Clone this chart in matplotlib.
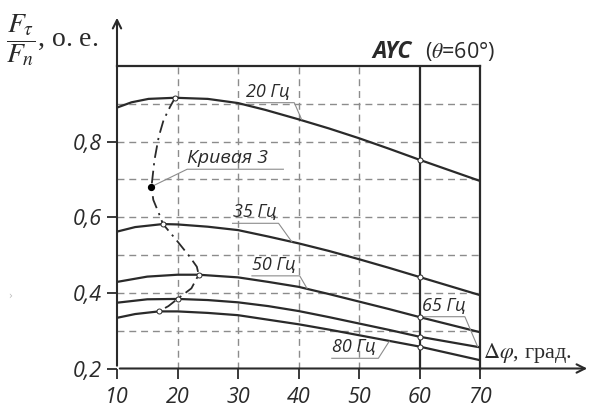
import matplotlib.pyplot as plt
import numpy as np

plt.rcParams['mathtext.fontset'] = 'stix'

# values
x20 = [10, 12.4, 15.2, 19.6, 25, 30, 34.5, 40, 45, 50, 55, 60, 65, 70]
y20 = [0.890, 0.904, 0.913, 0.916, 0.913, 0.902, 0.884, 0.859, 0.835, 0.809, 0.781, 0.752, 0.724, 0.696]
x35 = [10, 13, 17.6, 20, 25, 30, 35, 40, 45, 50, 55, 60, 65, 70]
y35 = [0.562, 0.574, 0.582, 0.581, 0.575, 0.566, 0.549, 0.531, 0.511, 0.489, 0.466, 0.442, 0.418, 0.394]
x50 = [10, 15, 20, 23.5, 30, 35, 40, 45, 50, 55, 60, 65, 70]
y50 = [0.429, 0.443, 0.448, 0.448, 0.441, 0.429, 0.416, 0.397, 0.377, 0.357, 0.336, 0.316, 0.296]
x65 = [10, 15, 20, 25, 30, 35, 40, 45, 50, 55, 60, 65, 70]
y65 = [0.374, 0.383, 0.384, 0.381, 0.375, 0.365, 0.352, 0.336, 0.319, 0.302, 0.284, 0.270, 0.256]
x80 = [10, 13, 16.9, 20, 25, 30, 35, 40, 45, 50, 55, 60, 65, 70]
y80 = [0.334, 0.344, 0.351, 0.351, 0.347, 0.341, 0.329, 0.317, 0.303, 0.288, 0.273, 0.258, 0.240, 0.222]

# "Кривая 3" - line through the maxima
xk3 = [19.6, 18.8, 17.7, 16.9, 16.2, 15.7, 16.0, 16.9, 17.6, 19.8, 22.0, 23.2, 23.5, 22.3, 20.0, 18.5, 16.9]
yk3 = [0.916, 0.893, 0.857, 0.813, 0.752, 0.681, 0.646, 0.611, 0.582, 0.540, 0.496, 0.469, 0.448, 0.412, 0.384, 0.365, 0.351]
xk3_open = [19.6, 17.6, 23.5, 20.0, 16.9]
yk3_open = [0.916, 0.582, 0.448, 0.384, 0.351]

x_ayc = 60
y_ayc = [0.752, 0.442, 0.336, 0.284, 0.258]

xticks = [10, 20, 30, 40, 50, 60, 70]
yticks = [0.2, 0.4, 0.6, 0.8]

W, H = 591, 408
fig = plt.figure(figsize=(W / 100, H / 100), dpi=100)
ax = fig.add_axes([117 / W, (H - 368.5) / H, 363 / W, 302.5 / H])

dark = '#2a2a2a'
gray = '#8c8c8c'
sans = 'Open Sans'

# dashed grid
for gx in [20, 30, 40, 50]:
    ax.plot([gx, gx], [0.2, 1.0], color=gray, lw=1.0, ls=(0, (5, 3.5)), zorder=1)
for gy in [0.3, 0.4, 0.5, 0.6, 0.7, 0.8, 0.9]:
    ax.plot([10, 70], [gy, gy], color=gray, lw=1.0, ls=(0, (5, 3.5)), zorder=1)

ax.plot([x_ayc, x_ayc], [0.2, 1.0], color=dark, lw=1.6, zorder=2)

for xs, ys in [(x20, y20), (x35, y35), (x50, y50), (x65, y65), (x80, y80)]:
    ax.plot(xs, ys, color=dark, lw=1.6, zorder=3, solid_joinstyle='round')

ax.plot(xk3, yk3, color=dark, lw=1.3, ls=(0, (7, 3, 1.2, 3)), zorder=3)
ax.plot(xk3_open, yk3_open, 'o', ms=3.6, mfc='white', mec=dark, mew=0.7, zorder=5)
ax.plot([x_ayc] * len(y_ayc), y_ayc, 'o', ms=3.6, mfc='white', mec=dark, mew=0.7, zorder=5)
ax.plot([15.7], [0.681], 'o', ms=4.2, color='black', zorder=5)

# labels with leader lines
labels = [
    ('20 Гц', 31.4, 0.903, 39.3, 40.5, 0.859),
    ('Кривая 3', 21.6, 0.727, 37.5, 15.7, 0.681),
    ('35 Гц', 29.1, 0.584, 36.7, 38.9, 0.535),
    ('50 Гц', 32.3, 0.445, 40.2, 41.4, 0.412),
    ('65 Гц', 60.4, 0.337, 67.5, 69.6, 0.258),
    ('80 Гц', 45.5, 0.227, 53.2, 55.0, 0.272),
]
for txt, x0, yl, x1, xe, ye in labels:
    if txt.startswith('Кривая'):
        ax.plot([x1, x0, xe], [yl, yl, ye], color=gray, lw=0.8, zorder=4, clip_on=False)
        fs = 14
    else:
        ax.plot([x0, x1, xe], [yl, yl, ye], color=gray, lw=0.8, zorder=4, clip_on=False)
        fs = 13
    ax.text(x0, yl + 0.005, txt, fontsize=fs, family=sans, style='italic',
            color=dark, ha='left', va='bottom')

ax.set_xlim(10, 70)
ax.set_ylim(0.2, 1.0)
ax.set_xticks(xticks)
ax.set_yticks(yticks)
ax.set_xticklabels([str(v) for v in xticks])
ax.set_yticklabels([('%.1f' % v).replace('.', ',') for v in yticks])
for lab in ax.get_xticklabels() + ax.get_yticklabels():
    lab.set_family(sans)
    lab.set_style('italic')
    lab.set_fontsize(15.5)
    lab.set_color(dark)
ax.tick_params(direction='out', length=7, width=1.3, color=dark)
ax.tick_params(axis='x', pad=6)
ax.tick_params(axis='y', pad=4)

for s in ['top', 'right']:
    ax.spines[s].set_linewidth(1.6)
    ax.spines[s].set_color(dark)
ax.spines['left'].set_visible(False)
ax.spines['bottom'].set_visible(False)

# axes with arrows
ax.annotate('', xy=(117, H - 15), xycoords='figure pixels', xytext=(117, H - 368.5),
            textcoords='figure pixels',
            arrowprops=dict(arrowstyle='->,head_length=0.6,head_width=0.3', lw=1.5, color=dark))
ax.annotate('', xy=(590, H - 368.5), xycoords='figure pixels', xytext=(117, H - 368.5),
            textcoords='figure pixels',
            arrowprops=dict(arrowstyle='->,head_length=0.6,head_width=0.3', lw=1.5, color=dark))

# axis titles
fig.text(6 / W, 1 - 40 / H, r'$\dfrac{F_\tau}{F_n}$, о. е.', fontsize=20,
         family='Liberation Serif', ha='left', va='center', color=dark)
fig.text(483 / W, 1 - 353 / H, r'$\Delta\varphi$, град.', fontsize=16,
         family='Liberation Serif', ha='left', va='center', color=dark)
fig.text(372 / W, 1 - 58 / H, 'AYC', fontsize=16.5, family=sans, style='italic',
         weight='bold', ha='left', va='baseline', color=dark)
fig.text(425 / W, 1 - 58 / H, r'($\theta$=60°)', fontsize=15.5, family=sans,
         ha='left', va='baseline', color=dark)
fig.text(10 / W, 1 - 296 / H, '›', fontsize=7, color='#bbbbbb', ha='center', va='center')

fig.savefig('out.png', dpi=100)
